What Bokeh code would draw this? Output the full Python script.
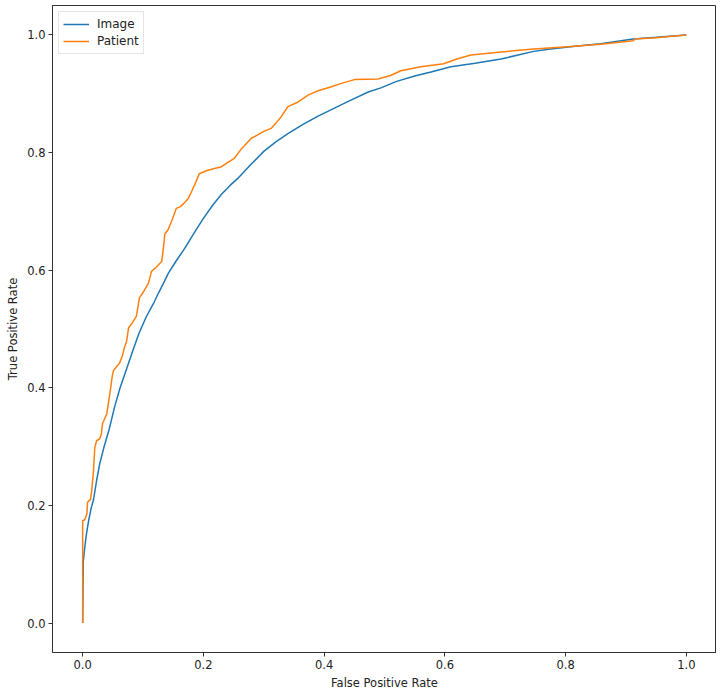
from bokeh.plotting import figure
from bokeh.models import FixedTicker, PrintfTickFormatter, Range1d
from bokeh.embed import file_html
from bokeh.resources import INLINE

# ROC curve for image-level predictions
image_fpr = [0.0, 0.001, 0.003, 0.006, 0.010, 0.014, 0.018, 0.023, 0.028, 0.035,
             0.044, 0.053, 0.062, 0.072, 0.082, 0.093, 0.105, 0.118, 0.126, 0.135,
             0.142, 0.155, 0.169, 0.185, 0.200, 0.215, 0.230, 0.245, 0.258, 0.279,
             0.300, 0.320, 0.340, 0.365, 0.390, 0.412, 0.440, 0.473, 0.494, 0.520,
             0.550, 0.577, 0.610, 0.650, 0.693, 0.747, 0.775, 0.820, 0.858, 0.912,
             0.950, 1.0]
image_tpr = [0.0, 0.105, 0.125, 0.150, 0.175, 0.195, 0.210, 0.242, 0.270, 0.298,
             0.330, 0.368, 0.400, 0.430, 0.460, 0.492, 0.520, 0.545, 0.562, 0.580,
             0.595, 0.616, 0.637, 0.664, 0.688, 0.710, 0.729, 0.745, 0.757, 0.780,
             0.802, 0.818, 0.832, 0.848, 0.862, 0.873, 0.887, 0.903, 0.910, 0.921,
             0.930, 0.937, 0.946, 0.952, 0.959, 0.972, 0.976, 0.981, 0.985, 0.993,
             0.996, 1.0]

# ROC curve for patient-level predictions
patient_fpr = [0.0, 0.0, 0.003, 0.005, 0.007, 0.008, 0.010, 0.013, 0.015, 0.018,
               0.020, 0.023, 0.028, 0.031, 0.033, 0.035, 0.040, 0.045, 0.049, 0.051,
               0.056, 0.061, 0.066, 0.069, 0.073, 0.076, 0.082, 0.089, 0.092, 0.094,
               0.100, 0.109, 0.112, 0.114, 0.122, 0.131, 0.134, 0.136, 0.141, 0.148,
               0.155, 0.162, 0.169, 0.175, 0.181, 0.188, 0.193, 0.205, 0.218, 0.230,
               0.240, 0.251, 0.262, 0.279, 0.290, 0.300, 0.312, 0.320, 0.329, 0.340,
               0.355, 0.374, 0.390, 0.412, 0.430, 0.450, 0.489, 0.510, 0.527, 0.560,
               0.598, 0.620, 0.643, 0.693, 0.747, 0.803, 0.858, 0.912, 0.915, 0.950,
               1.0]
patient_tpr = [0.0, 0.175, 0.175, 0.180, 0.186, 0.205, 0.208, 0.210, 0.225, 0.260,
               0.298, 0.310, 0.313, 0.322, 0.340, 0.344, 0.356, 0.390, 0.420, 0.429,
               0.436, 0.442, 0.455, 0.468, 0.480, 0.502, 0.510, 0.522, 0.540, 0.553,
               0.562, 0.578, 0.590, 0.598, 0.605, 0.615, 0.640, 0.661, 0.668, 0.685,
               0.705, 0.708, 0.715, 0.722, 0.735, 0.751, 0.764, 0.769, 0.773, 0.776,
               0.783, 0.790, 0.805, 0.824, 0.830, 0.836, 0.841, 0.850, 0.861, 0.878,
               0.885, 0.898, 0.905, 0.912, 0.918, 0.924, 0.925, 0.931, 0.939, 0.946,
               0.951, 0.959, 0.966, 0.971, 0.976, 0.980, 0.984, 0.990, 0.993, 0.995,
               1.0]

tick_values = [0.0, 0.2, 0.4, 0.6, 0.8, 1.0]

FONT = "DejaVu Sans"

p = figure(width=716, height=692, output_backend="svg", toolbar_location=None,
           x_range=Range1d(-0.05, 1.05), y_range=Range1d(-0.05, 1.05),
           min_border_left=52, min_border_right=0, min_border_top=5,
           min_border_bottom=38)

p.line(image_fpr, image_tpr, color="#1f77b4", line_width=1.5, legend_label="Image")
p.line(patient_fpr, patient_tpr, color="#ff7f0e", line_width=1.5, legend_label="Patient")

p.grid.visible = False
p.outline_line_color = "#333333"
p.outline_line_width = 1
p.background_fill_color = "white"
p.border_fill_color = "white"

for ax in (p.xaxis[0], p.yaxis[0]):
    ax.ticker = FixedTicker(ticks=tick_values)
    ax.formatter = PrintfTickFormatter(format="%.1f")
    ax.minor_tick_line_color = None
    ax.major_tick_in = 0
    ax.major_tick_out = 4
    ax.major_tick_line_color = "#333333"
    ax.axis_line_color = "#333333"
    ax.major_label_text_font = FONT
    ax.major_label_text_font_size = "11.5px"
    ax.major_label_text_color = "#222222"
    ax.axis_label_text_font = FONT
    ax.axis_label_text_font_size = "11.5px"
    ax.axis_label_text_font_style = "normal"
    ax.axis_label_text_color = "#222222"
    ax.major_label_standoff = 3
    ax.axis_label_standoff = 4

p.xaxis.axis_label = "False Positive Rate"
p.yaxis.axis_label = "True Positive Rate"

p.legend.location = "top_left"
p.legend.margin = 6
p.legend.padding = 4
p.legend.spacing = 1
p.legend.glyph_width = 26
p.legend.glyph_height = 16
p.legend.label_height = 16
p.legend.label_standoff = 8
p.legend.label_text_font = FONT
p.legend.label_text_font_size = "12px"
p.legend.label_text_color = "#222222"
p.legend.border_line_color = "#cccccc"
p.legend.background_fill_alpha = 0.8

open("out.html", "w").write(file_html(p, INLINE))
